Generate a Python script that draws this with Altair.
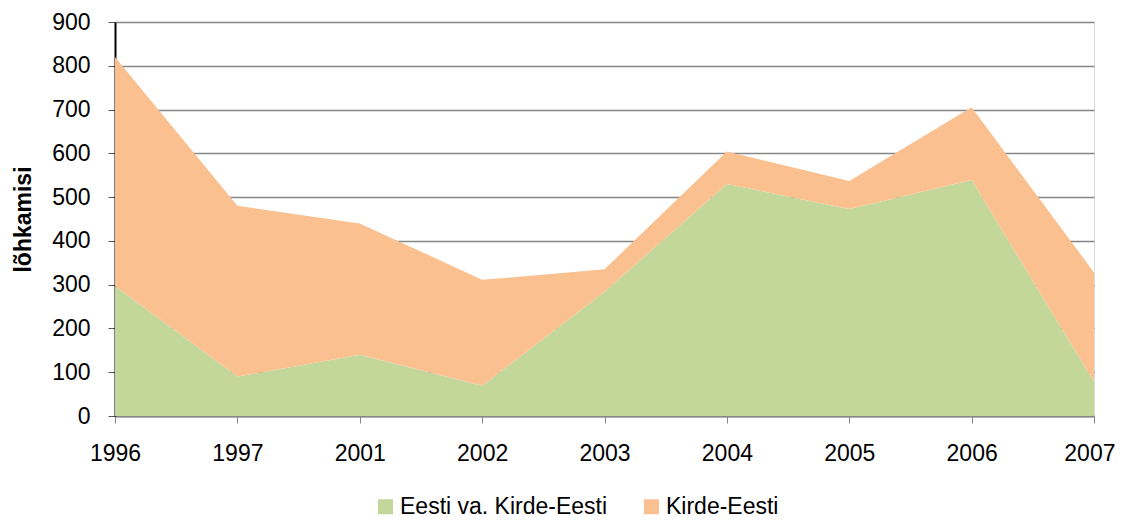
import altair as alt
import pandas as pd

years = ["1996", "1997", "2001", "2002", "2003", "2004", "2005", "2006", "2007"]
series_names = ["Eesti va. Kirde-Eesti", "Kirde-Eesti"]
eesti_va = [297, 90, 140, 69, 284, 530, 473, 539, 78]
kirde = [523, 390, 300, 242, 51, 74, 64, 166, 250]
colors = ["#C4D79B", "#FAC090"]

rows = []
for i, y in enumerate(years):
    rows.append({"year": y, "series": series_names[0], "value": eesti_va[i], "ord": 0})
    rows.append({"year": y, "series": series_names[1], "value": kirde[i], "ord": 1})
df = pd.DataFrame(rows)

FONT = "Liberation Sans"
FS = 23
last = years[-1]

chart = alt.Chart(df).mark_area(opacity=1, strokeWidth=0).encode(
    x=alt.X("year:N", sort=years,
            scale=alt.Scale(type="point", padding=0),
            axis=alt.Axis(title=None, labelAngle=0, labelFontSize=FS, labelFont=FONT,
                          labelColor="#000000", labelPadding=19, tickSize=7,
                          labelAlign=alt.condition(f"datum.label == '{last}'",
                                                   alt.value("right"), alt.value("center")),
                          labelOffset=alt.condition(f"datum.label == '{last}'",
                                                    alt.value(21), alt.value(0)),
                          labelBound=False, labelOverlap=False, labelLimit=0,
                          tickColor="#868686", domainColor="#868686", domainWidth=2,
                          grid=False)),
    y=alt.Y("value:Q", stack="zero",
            scale=alt.Scale(domain=[0, 900], nice=False),
            axis=alt.Axis(title="lõhkamisi", values=list(range(0, 901, 100)),
                          labelFontSize=FS, labelFont=FONT, labelColor="#000000",
                          labelPadding=18, tickSize=7, tickColor="#555555",
                          domainColor="#000000", domainWidth=2,
                          gridColor="#868686", gridWidth=1.5,
                          titleFont=FONT, titleFontSize=FS, titleFontWeight="bold",
                          titleColor="#000000", titleX=-92, titleY=197,
                          titleAngle=270, titleAlign="center", titleBaseline="middle")),
    color=alt.Color("series:N", sort=series_names,
                    scale=alt.Scale(domain=series_names, range=colors),
                    legend=alt.Legend(title=None, orient="none", legendX=259, legendY=473,
                                      direction="horizontal", symbolType="square",
                                      symbolSize=225, symbolStrokeWidth=0,
                                      labelFontSize=FS, labelFont=FONT, labelColor="#000000",
                                      labelLimit=0, labelOffset=3, columnPadding=32,
                                      padding=0)),
    order=alt.Order("ord:Q", sort="ascending"),
).properties(
    width=979, height=394,
    autosize=alt.AutoSizeParams(type="none"),
    padding={"left": 107, "top": 14, "right": 21, "bottom": 104},
).configure_view(
    fill="#EDE6DC", stroke="#7F7F7F", strokeWidth=1.5
).configure(background="#FFFFFF")

chart.save("out.html", embed_options={"renderer": "svg", "actions": False})
